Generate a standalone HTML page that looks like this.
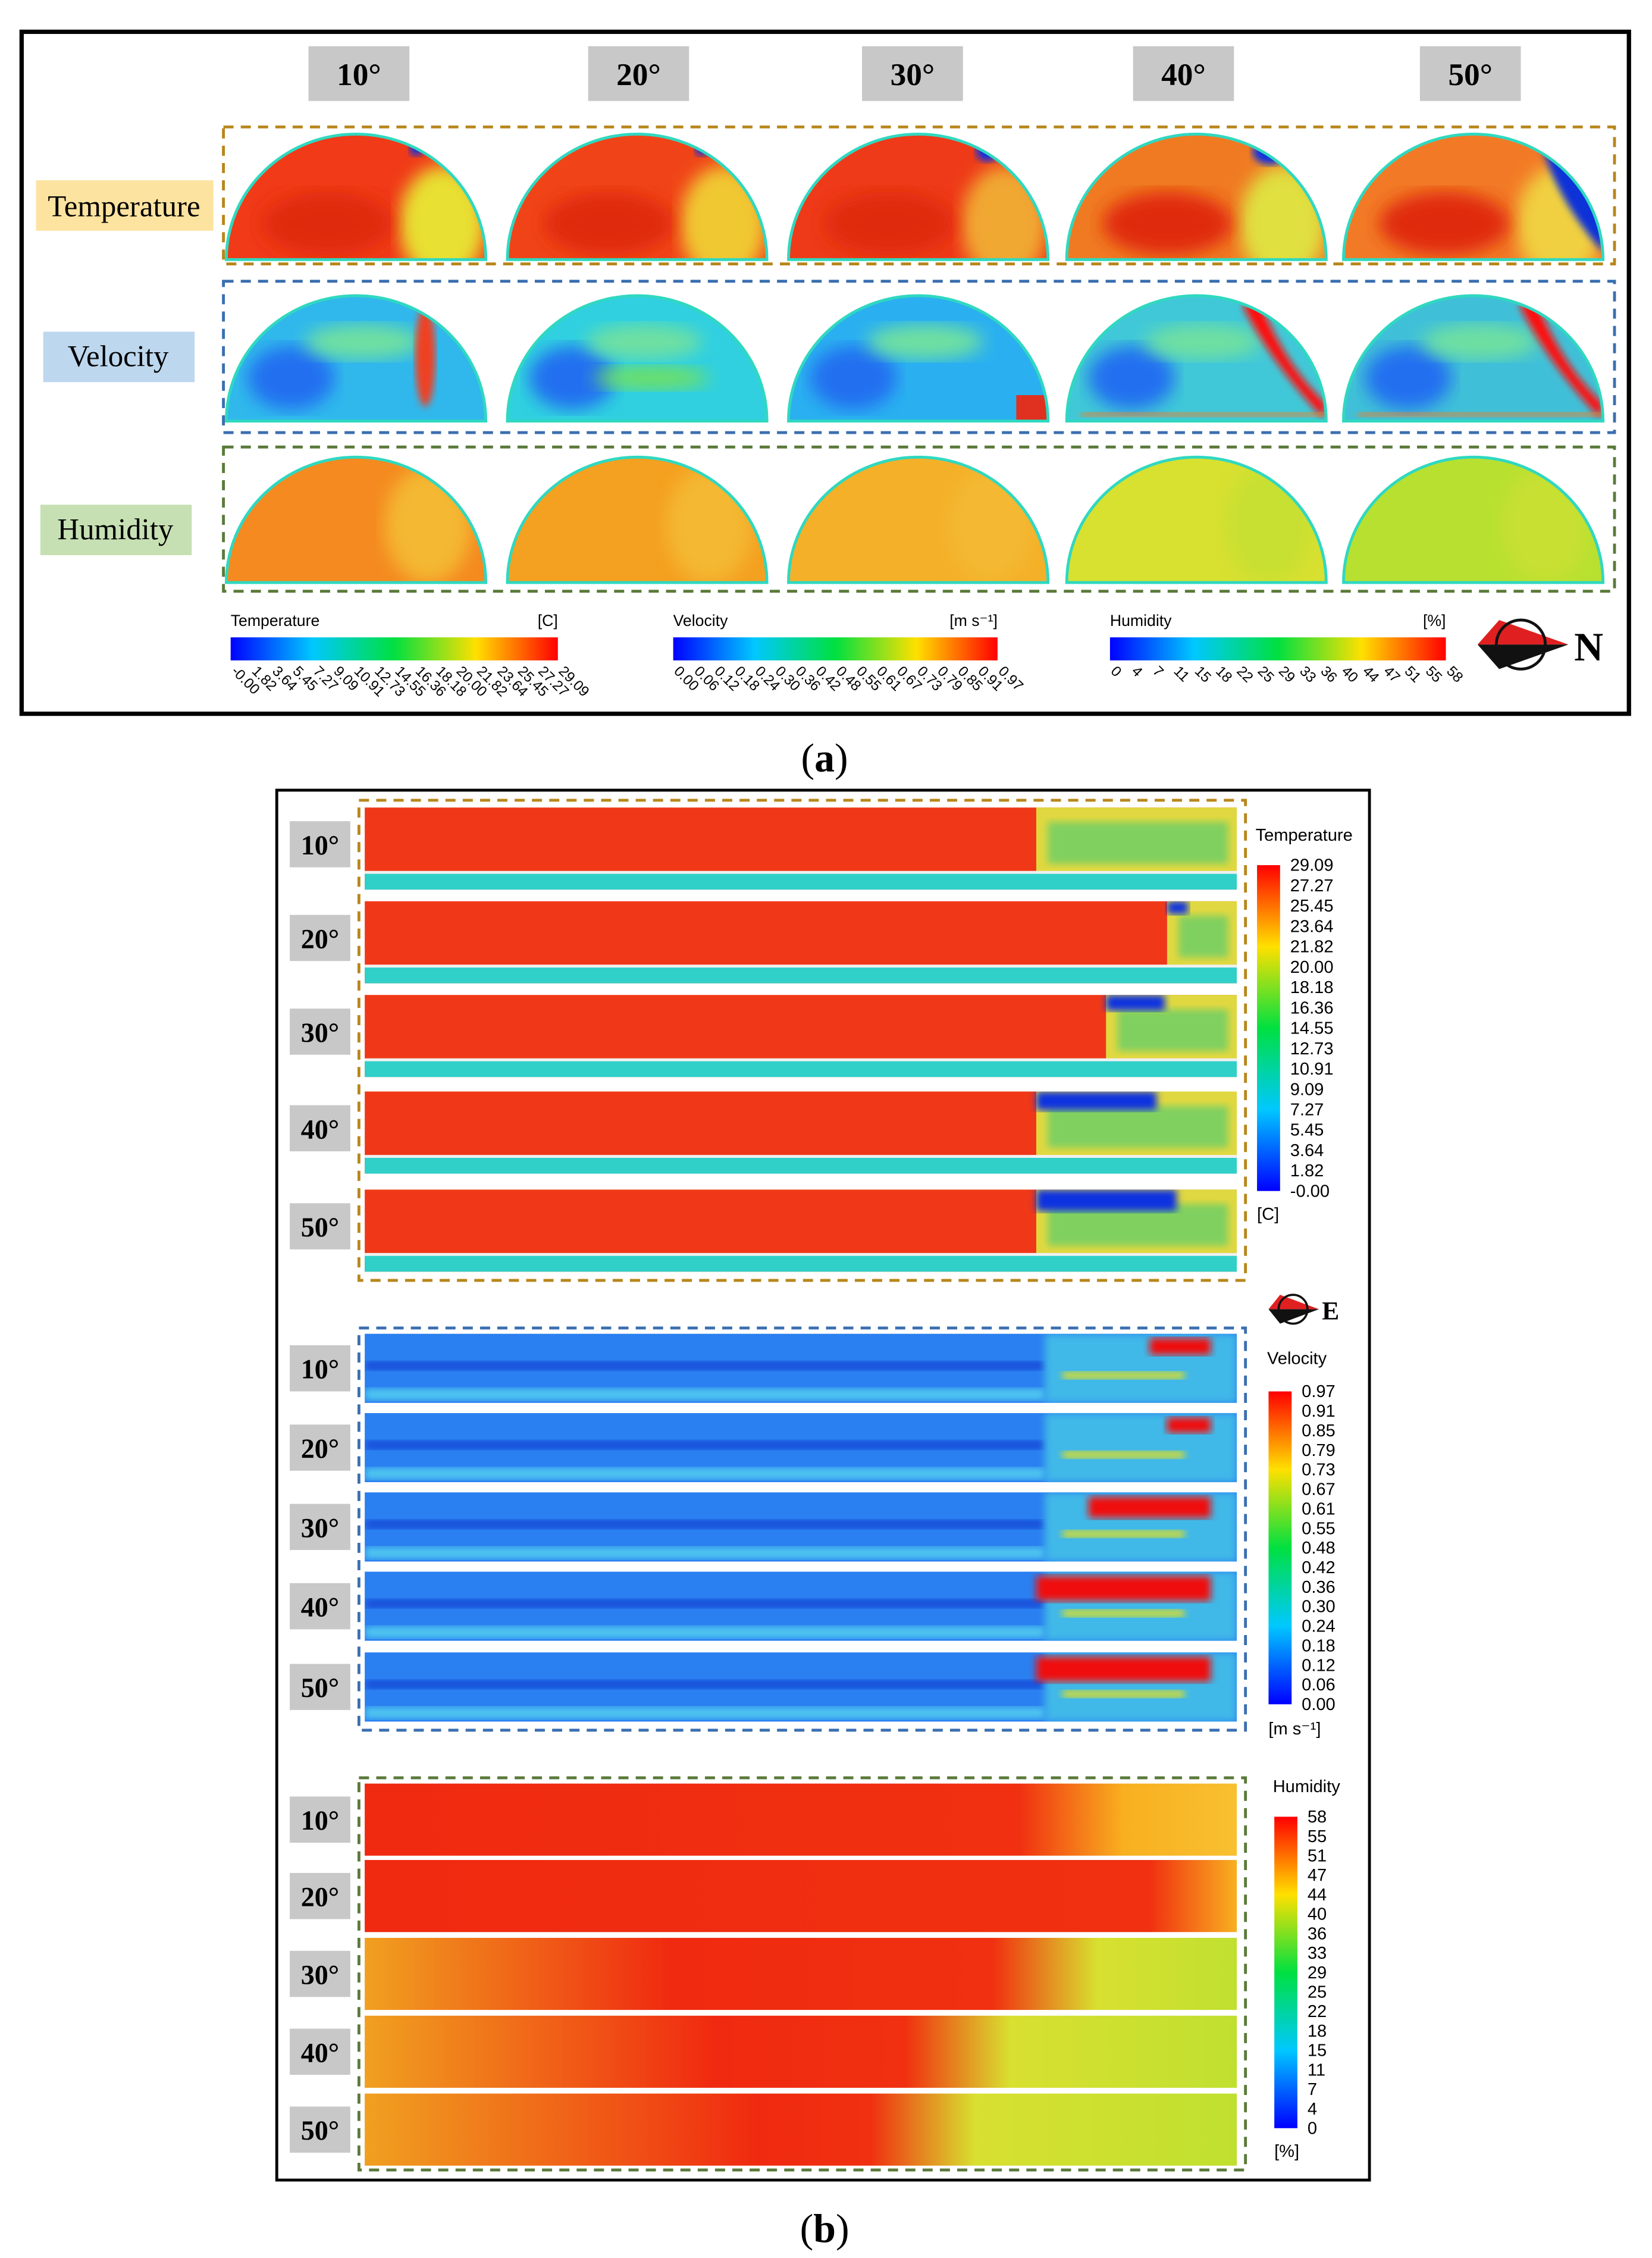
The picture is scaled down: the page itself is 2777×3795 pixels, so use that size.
<!DOCTYPE html>
<html><head><meta charset="utf-8">
<style>
html,body{margin:0;padding:0;background:#fff;}
svg{display:block;}
text{font-family:"Liberation Sans",sans-serif;}
.serif{font-family:"Liberation Serif",serif;}
</style></head>
<body>
<svg id="fig" xmlns="http://www.w3.org/2000/svg" width="2777" height="3795" viewBox="0 0 1146 1566">
<defs>
<linearGradient id="jetH" x1="0" x2="1" y1="0" y2="0">
<stop offset="0" stop-color="#0000ff"/><stop offset="0.25" stop-color="#00c8ff"/><stop offset="0.5" stop-color="#00e040"/><stop offset="0.75" stop-color="#ffe000"/><stop offset="1" stop-color="#ff0000"/>
</linearGradient>
<linearGradient id="jetV" x1="0" x2="0" y1="1" y2="0">
<stop offset="0" stop-color="#0000ff"/><stop offset="0.25" stop-color="#00c8ff"/><stop offset="0.5" stop-color="#00e040"/><stop offset="0.75" stop-color="#ffe000"/><stop offset="1" stop-color="#ff0000"/>
</linearGradient>
<filter id="blur4"><feGaussianBlur stdDeviation="6"/></filter>
<filter id="blur2"><feGaussianBlur stdDeviation="2.5"/></filter>
</defs>

<rect x="15" y="22" width="1115" height="473" fill="none" stroke="#000" stroke-width="3"/>
<g id="headers"></g>
<rect x="155" y="88" width="965" height="95" fill="none" stroke="#b8861b" stroke-width="2" stroke-dasharray="7,5"/>
<rect x="155" y="195" width="965" height="105" fill="none" stroke="#3b6fb0" stroke-width="2" stroke-dasharray="7,5"/>
<rect x="155" y="310" width="965" height="100" fill="none" stroke="#5a7a3a" stroke-width="2" stroke-dasharray="7,5"/>

<rect x="25" y="125" width="123" height="35" fill="#fde3a0"/>
<text class="serif" x="86" y="150" font-size="21" text-anchor="middle">Temperature</text>
<rect x="30" y="230" width="105" height="35" fill="#bdd7ee"/>
<text class="serif" x="82" y="254" font-size="21" text-anchor="middle">Velocity</text>
<rect x="28" y="350" width="105" height="35" fill="#c6e0b4"/>
<text class="serif" x="80" y="374" font-size="21" text-anchor="middle">Humidity</text>

<g id="domes"></g>
<g id="hbars"></g>

<g>
<polygon points="1025,447 1088,447 1040,430" fill="#e02020"/>
<polygon points="1025,447 1088,447 1040,464" fill="#111"/>
<circle cx="1055" cy="447" r="17" fill="none" stroke="#111" stroke-width="2"/>
<text x="1092" y="458" class="serif" font-size="28" font-weight="bold">N</text>
</g>
<text class="serif" x="572" y="535" font-size="28" text-anchor="middle">(<tspan font-weight="bold">a</tspan>)</text>

<rect x="192" y="548" width="758" height="964" fill="none" stroke="#000" stroke-width="2"/>
<rect x="249" y="555" width="615" height="333" fill="none" stroke="#b8861b" stroke-width="2" stroke-dasharray="7,5"/>
<rect x="249" y="921" width="615" height="279" fill="none" stroke="#3b6fb0" stroke-width="2" stroke-dasharray="7,5"/>
<rect x="249" y="1233" width="615" height="272" fill="none" stroke="#5a7a3a" stroke-width="2" stroke-dasharray="7,5"/>
<g id="strips"></g>
<g id="vbars"></g>
<g>
<polygon points="880,908 915,908 888,898" fill="#e02020"/>
<polygon points="880,908 915,908 888,918" fill="#111"/>
<circle cx="897" cy="908" r="10" fill="none" stroke="#111" stroke-width="1.5"/>
<text x="917" y="915" class="serif" font-size="18" font-weight="bold">E</text>
</g>
<text class="serif" x="572" y="1555" font-size="28" text-anchor="middle">(<tspan font-weight="bold">b</tspan>)</text>
</svg>

<script>
const NS="http://www.w3.org/2000/svg";
const angles=["10°","20°","30°","40°","50°"];
const headerX=[249,443,633,821,1020];
const tempTicks=["-0.00","1.82","3.64","5.45","7.27","9.09","10.91","12.73","14.55","16.36","18.18","20.00","21.82","23.64","25.45","27.27","29.09"];
const velTicks=["0.00","0.06","0.12","0.18","0.24","0.30","0.36","0.42","0.48","0.55","0.61","0.67","0.73","0.79","0.85","0.91","0.97"];
const humTicks=["0","4","7","11","15","18","22","25","29","33","36","40","44","47","51","55","58"];
const tempBase=["#f03a18","#f04418","#ee3a18","#f07a22","#f27a26"];
const tempPatch=["#e8e030","#f0c830","#f0a830","#e0e040","#f0d040"];
const tempNotchW=[5,5,8,12,20];
const tempNotchH=[8,8,12,14,80];
const velBase=["#30b8ec","#30d0e0","#2ab0f0","#40c8d8","#40c0d8"];
const velPatch=["#f04020","#70e060","#e03020","#ff1010","#ff1010"];
const humBase=["#f48a20","#f4a020","#f4b028","#d8e030","#b8e030"];
const domeCx=[247,442,637,830,1022];
const rowBottoms=[180,292,404];

function el(tag,attrs,parent){const e=document.createElementNS(NS,tag);for(const k in attrs)e.setAttribute(k,attrs[k]);parent.appendChild(e);return e;}

const hg=document.getElementById('headers');
angles.forEach((a,i)=>{
 const r=el('rect',{x:headerX[i]-35,y:32,width:70,height:38,fill:'#c8c8c8'},hg);
 
 
 const t=el('text',{x:headerX[i],y:59,'font-size':22,'font-weight':'bold','text-anchor':'middle',class:'serif'},hg);
 
 
 t.textContent=a;
});

const dg=document.getElementById('domes');
let cid=0;
function dome(cx,by,base,extra,name){
 const g=el('g',{},dg);
 
 
 const id='c'+(cid++);
 const cp=el('clipPath',{id:id},g);
 const d=`M${cx-90},${by} A90 87 0 0 1 ${cx+90},${by} Z`;
 el('path',{d:d},cp);
 const inner=el('g',{'clip-path':`url(#${id})`},g);
 el('rect',{x:cx-92,y:by-90,width:184,height:92,fill:base},inner);
 extra(inner,cx,by);
 el('path',{d:d,fill:'none',stroke:'#30d8c0','stroke-width':2},g);
}
angles.forEach((a,i)=>{
 const cx=domeCx[i];
 dome(cx,rowBottoms[0],tempBase[i],(g,cx,by)=>{
  el('ellipse',{cx:cx+60,cy:by-25,rx:30,ry:40,fill:tempPatch[i],filter:'url(#blur4)'},g);
  el('ellipse',{cx:cx-20,cy:by-25,rx:45,ry:22,fill:'#e02a10',filter:'url(#blur4)'},g);
  if(i<4){el('ellipse',{cx:cx+42+i*3,cy:by-82+tempNotchH[i]/2,rx:tempNotchW[i],ry:tempNotchH[i]/2+2,fill:'#1030e0',filter:'url(#blur2)'},g);}
  else{el('path',{d:`M${cx+45},${by-88} Q${cx+55},${by-45} ${cx+90},${by-5} L${cx+95},${by-60} Z`,fill:'#1030d8',filter:'url(#blur2)'},g);}
 },'temperature-dome-'+(i+1)*10);
 dome(cx,rowBottoms[1],velBase[i],(g,cx,by)=>{
  el('ellipse',{cx:cx-45,cy:by-30,rx:30,ry:22,fill:'#2070f0',filter:'url(#blur4)'},g);
  el('ellipse',{cx:cx+5,cy:by-55,rx:40,ry:12,fill:'#70e0a0',filter:'url(#blur4)'},g);
  if(i>=3){el('path',{d:`M${cx+42},${by-88} Q${cx+60},${by-40} ${cx+90},${by-12} L${cx+88},${by-2} Q${cx+52},${by-40} ${cx+32},${by-80}Z`,fill:velPatch[i],filter:'url(#blur2)'},g);
   el('rect',{x:cx-80,y:by-6,width:170,height:3,fill:'#f08020',filter:'url(#blur2)'},g);}
  else if(i==2){el('rect',{x:cx+68,y:by-18,width:22,height:18,fill:velPatch[i]},g);}
  else if(i==0){el('ellipse',{cx:cx+48,cy:by-45,rx:7,ry:35,fill:velPatch[i],filter:'url(#blur2)'},g);}
  else {el('ellipse',{cx:cx+10,cy:by-30,rx:40,ry:8,fill:velPatch[i],filter:'url(#blur4)'},g);}
 },'velocity-dome-'+(i+1)*10);
 dome(cx,rowBottoms[2],humBase[i],(g,cx,by)=>{
  el('ellipse',{cx:cx+50,cy:by-40,rx:30,ry:40,fill:i<3?'#f4b830':'#c8e030',filter:'url(#blur4)'},g);
 },'humidity-dome-'+(i+1)*10);
});

const hb=document.getElementById('hbars');
function hbar(x,w,title,unit,ticks,name){
 const g=el('g',{},hb);
 
 
 const t=el('text',{x:x,y:434,'font-size':11},g);t.textContent=title;
 const u=el('text',{x:x+w,y:434,'font-size':11,'text-anchor':'end'},g);u.textContent=unit;
 el('rect',{x:x,y:442,width:w,height:16,fill:'url(#jetH)'},g);
 ticks.forEach((tk,k)=>{
  const tx=x+k*w/(ticks.length-1);
  const tt=el('text',{x:tx,y:466,'font-size':10,transform:`rotate(45 ${tx} 466)`},g);
  
  
  tt.textContent=tk;
 });
}
hbar(160,227,'Temperature','[C]',tempTicks,'temperature-colorbar-a');
hbar(467,225,'Velocity','[m s⁻¹]',velTicks,'velocity-colorbar-a');
hbar(770,233,'Humidity','[%]',humTicks,'humidity-colorbar-a');

const tempStripY=[560,625,690,757,825], tempStripH=57;
const velStripY=[925,980,1035,1090,1146], velStripH=48;
const humStripY=[1237,1290,1344,1398,1452], humStripH=50;
const tempRedEnd=[0.77,0.92,0.85,0.77,0.77];
const tempBlueW=[0,0.3,0.45,0.6,0.7];
const velRedSize=[0.35,0.25,0.7,1,1];
const humRedStart=[0,0,0.35,0.4,0.45];
const humRedEnd=[0.75,0.9,0.72,0.62,0.58];
const labelXs=221;
const sg=document.getElementById('strips');
let gid=0;
function label(y,h,a){
 const r=el('rect',{x:labelXs-20,y:y+h/2-16,width:42,height:32,fill:'#c8c8c8'},sg);
 
 
 const t=el('text',{x:labelXs+1,y:y+h/2+7,'font-size':19,'font-weight':'bold','text-anchor':'middle',class:'serif'},sg);
 
 
 t.textContent=a;
}
function clipFor(g,x,y,w,h){const id='sc'+(gid++);const cp=el('clipPath',{id:id},g);el('rect',{x:x,y:y,width:w,height:h},cp);return el('g',{'clip-path':`url(#${id})`},g);}
angles.forEach((a,i)=>{
 let y=tempStripY[i],h=tempStripH,x=253,w=605;
 let g=el('g',{},sg);
 
 
 let c=clipFor(g,x,y,w,h);
 el('rect',{x:x,y:y,width:w,height:h,fill:'#f03818'},c);
 const rx=x+w*tempRedEnd[i], rw=w*(1-tempRedEnd[i]);
 el('rect',{x:rx,y:y,width:rw,height:h-12,fill:'#e0d840'},c);
 el('rect',{x:rx+8,y:y+10,width:rw-14,height:h-28,fill:'#80d060',filter:'url(#blur2)'},c);
 if(i>=1){el('rect',{x:rx,y:y,width:rw*tempBlueW[i],height:7+i*2,fill:'#1030e0',filter:'url(#blur2)'},c);}
 el('rect',{x:x,y:y+h-12,width:w,height:12,fill:'#30d0c8'},c);
 el('line',{x1:x,x2:x+w,y1:y+h-12,y2:y+h-12,stroke:'#f0f0f0','stroke-width':2},g);
 label(y,h-6,a);
 y=velStripY[i];h=velStripH;
 g=el('g',{},sg);
 
 
 c=clipFor(g,x,y,w,h);
 el('rect',{x:x,y:y,width:w,height:h,fill:'#2a80f0'},c);
 el('rect',{x:x,y:y+h*0.4,width:w*0.78,height:6,fill:'#1448d8',filter:'url(#blur2)'},c);
 el('rect',{x:x,y:y+h-10,width:w*0.78,height:8,fill:'#50c8f0',filter:'url(#blur2)'},c);
 el('rect',{x:x+w*0.78,y:y,width:w*0.22,height:h,fill:'#40b8e8',filter:'url(#blur2)'},c);
 const rs=velRedSize[i];
 el('rect',{x:x+w*(0.97-0.2*rs),y:y+3,width:w*0.2*rs,height:h*0.3*(0.6+rs*0.6),fill:'#f01010',filter:'url(#blur2)'},c);
 el('rect',{x:x+w*0.8,y:y+h*0.55,width:w*0.14,height:5,fill:'#e0e020',filter:'url(#blur2)'},c);
 label(y,h,a);
 y=humStripY[i];h=humStripH;
 g=el('g',{},sg);
 
 
 const id='hg'+(gid++);
 const lg=el('linearGradient',{id:id,x1:0,x2:1,y1:0,y2:0},g);
 el('stop',{offset:0,'stop-color':humRedStart[i]>0?'#f0a020':'#f02a10'},lg);
 el('stop',{offset:Math.max(humRedStart[i],0.01),'stop-color':'#f02a10'},lg);
 el('stop',{offset:humRedEnd[i],'stop-color':'#f03010'},lg);
 el('stop',{offset:Math.min(humRedEnd[i]+0.12,1),'stop-color':i<2?'#f8b020':'#d8e030'},lg);
 el('stop',{offset:1,'stop-color':i<2?'#f8c030':'#c0e030'},lg);
 el('rect',{x:x,y:y,width:w,height:h,fill:`url(#${id})`},g);
 label(y,h,a);
});

const vb=document.getElementById('vbars');
function vbar(x,y0,y1,title,unit,ticks,name,ty,uy){
 const g=el('g',{},vb);
 
 
 const t=el('text',{x:x-1,y:ty,'font-size':12},g);t.textContent=title;
 const u=el('text',{x:x,y:uy,'font-size':12},g);u.textContent=unit;
 el('rect',{x:x,y:y0,width:16,height:y1-y0,fill:'url(#jetV)'},g);
 ticks.forEach((tk,k)=>{
  const ty2=y1-k*(y1-y0)/(ticks.length-1);
  const tt=el('text',{x:x+23,y:ty2+4,'font-size':12},g);
  
  
  tt.textContent=tk;
 });
}
vbar(872,600,826,'Temperature','[C]',tempTicks,'temperature-colorbar-b',583,846);
vbar(880,965,1182,'Velocity','[m s⁻¹]',velTicks,'velocity-colorbar-b',946,1203);
vbar(884,1260,1476,'Humidity','[%]',humTicks,'humidity-colorbar-b',1243,1496);
</script>
</body></html>
